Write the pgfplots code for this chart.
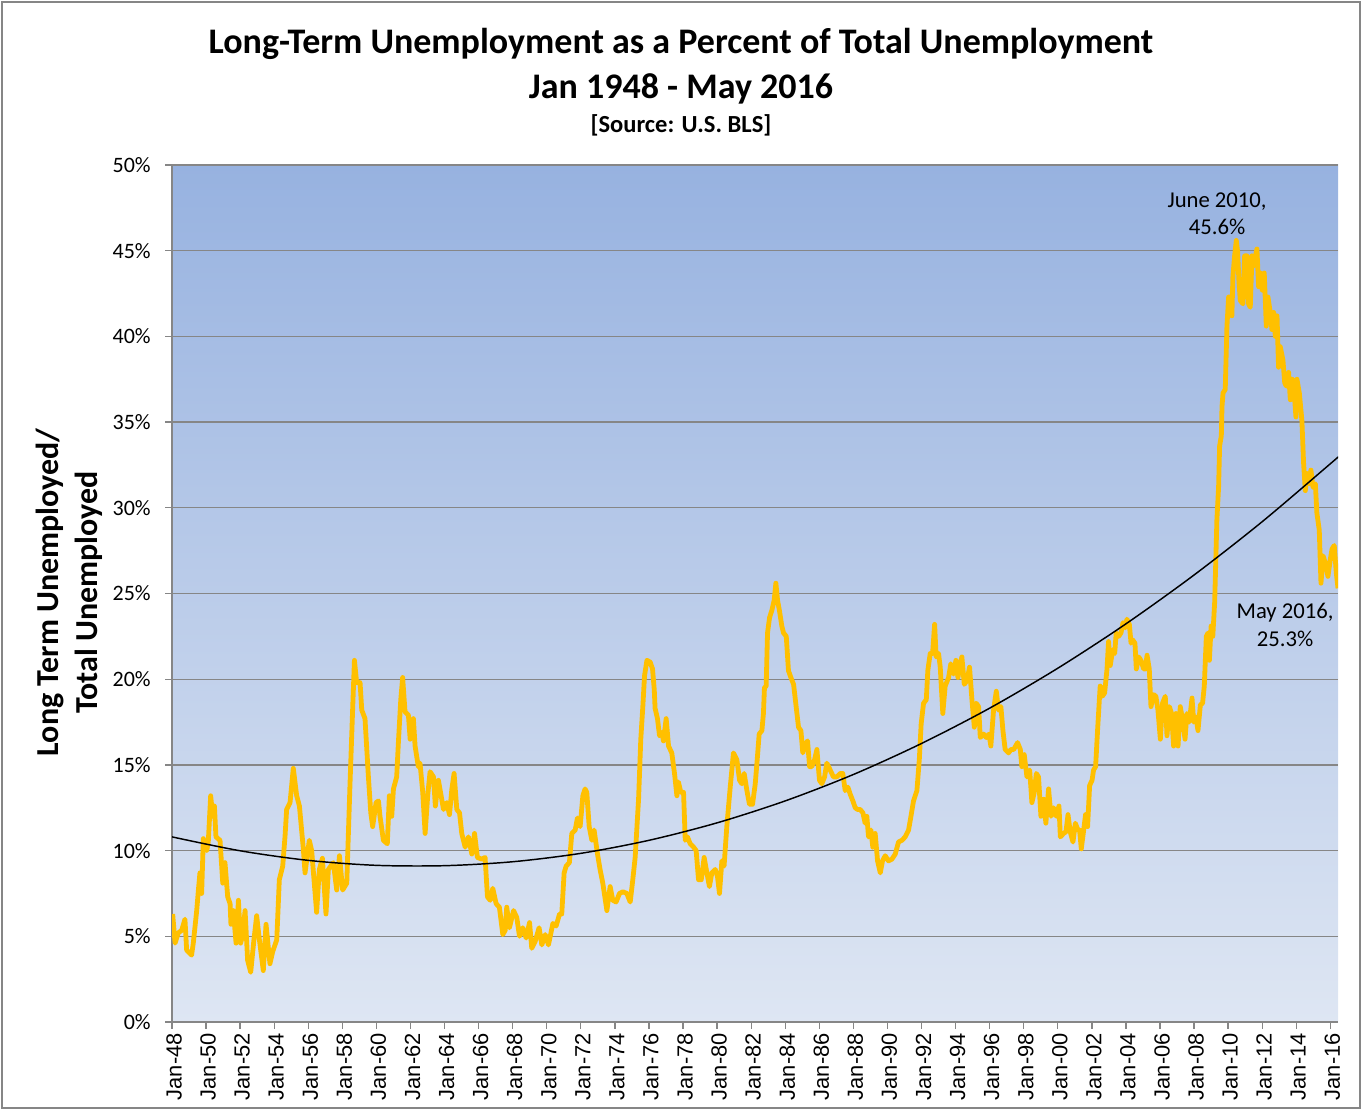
\documentclass[border=0pt]{standalone}
\usepackage{fontspec}
\setmainfont{Carlito}
\newfontfamily\arialfont{Liberation Sans}
\usepackage{pgfplots}
\pgfplotsset{compat=1.18}
\usepackage{pgfplotstable}

\definecolor{lineorange}{RGB}{255,192,0}
\definecolor{gridgray}{RGB}{134,134,134}
\definecolor{bgtop}{RGB}{151,178,224}
\definecolor{bgbottom}{RGB}{222,230,243}

% Share of the unemployed out of work 27 weeks or more (percent), by decimal year
\pgfplotstableread{
year share
1948.04 6.3
1948.18 4.6
1948.37 5.2
1948.57 5.35
1948.76 6.0
1948.86 4.2
1949.15 3.9
1949.25 4.6
1949.45 6.5
1949.55 7.7
1949.64 8.7
1949.74 7.5
1949.84 10.7
1950.04 10.0
1950.13 10.5
1950.27 13.2
1950.39 12.0
1950.49 12.6
1950.58 10.8
1950.82 10.6
1950.98 8.1
1951.11 9.3
1951.27 7.3
1951.41 6.9
1951.46 5.7
1951.60 6.5
1951.76 4.6
1951.90 7.1
1952.03 4.6
1952.13 5.0
1952.29 6.5
1952.44 3.6
1952.62 2.9
1952.81 4.8
1952.97 6.2
1953.13 4.8
1953.36 3.0
1953.52 5.7
1953.75 3.4
1953.91 4.1
1954.15 4.8
1954.30 8.3
1954.50 9.1
1954.64 10.9
1954.73 12.4
1954.93 12.8
1955.12 14.8
1955.32 13.2
1955.48 12.6
1955.71 10.1
1955.81 8.7
1956.06 10.6
1956.20 10.0
1956.49 6.4
1956.65 8.9
1956.83 9.55
1957.04 6.3
1957.18 8.9
1957.47 9.3
1957.67 7.7
1957.83 9.7
1958.02 7.7
1958.26 8.1
1958.45 13.9
1958.61 18.4
1958.71 21.1
1958.84 19.8
1959.04 19.8
1959.14 18.2
1959.33 17.7
1959.53 14.3
1959.67 12.2
1959.78 11.4
1959.98 12.8
1960.12 12.9
1960.21 12.0
1960.41 10.6
1960.64 10.4
1960.76 13.2
1960.90 12.0
1961.00 13.6
1961.19 14.3
1961.29 16.3
1961.43 18.8
1961.54 20.1
1961.68 18.1
1961.88 17.9
1961.98 16.5
1962.17 17.7
1962.27 16.1
1962.46 14.9
1962.56 15.1
1962.72 13.4
1962.86 11.0
1963.01 13.2
1963.15 14.6
1963.35 14.3
1963.46 12.6
1963.64 14.1
1963.94 12.4
1964.13 12.8
1964.29 12.1
1964.43 13.6
1964.56 14.5
1964.72 12.4
1964.88 12.2
1965.01 11.0
1965.21 10.2
1965.40 10.8
1965.60 9.8
1965.76 11.0
1965.93 9.6
1966.19 9.5
1966.38 9.6
1966.52 7.3
1966.68 7.1
1966.83 7.8
1967.03 6.9
1967.22 6.7
1967.42 5.1
1967.56 5.35
1967.65 6.7
1967.81 5.5
1968.05 6.5
1968.24 6.1
1968.40 5.0
1968.59 5.5
1968.79 4.9
1968.99 5.8
1969.12 4.3
1969.32 4.7
1969.55 5.5
1969.71 4.5
1969.91 5.1
1970.10 4.5
1970.36 5.75
1970.55 5.6
1970.75 6.3
1970.88 6.3
1971.02 8.7
1971.14 9.1
1971.33 9.3
1971.47 11.0
1971.67 11.2
1971.80 11.9
1971.96 11.4
1972.12 13.2
1972.25 13.6
1972.35 13.4
1972.49 11.4
1972.65 10.6
1972.78 11.2
1972.98 9.8
1973.13 8.9
1973.29 8.1
1973.53 6.5
1973.72 7.9
1973.88 7.1
1974.07 7.0
1974.27 7.5
1974.47 7.6
1974.70 7.5
1974.90 7.0
1975.05 8.3
1975.19 9.6
1975.39 13.0
1975.52 16.5
1975.64 18.4
1975.74 20.2
1975.88 21.1
1976.07 21.0
1976.21 20.6
1976.31 19.4
1976.36 18.3
1976.50 17.7
1976.62 16.7
1976.76 16.9
1976.85 16.4
1977.01 17.7
1977.15 16.1
1977.34 15.7
1977.50 14.5
1977.64 13.2
1977.73 14.0
1977.87 13.4
1978.03 13.4
1978.13 10.6
1978.26 10.8
1978.42 10.4
1978.62 10.2
1978.77 10.0
1978.91 8.3
1979.07 8.3
1979.24 9.6
1979.40 8.7
1979.55 7.9
1979.69 8.7
1979.89 8.9
1980.02 8.5
1980.14 7.5
1980.28 9.4
1980.41 9.1
1980.57 11.4
1980.77 13.7
1980.96 15.7
1981.16 15.3
1981.32 14.1
1981.45 13.9
1981.59 14.5
1981.75 13.5
1981.90 12.7
1982.08 12.7
1982.24 13.9
1982.37 15.5
1982.47 16.8
1982.63 17.0
1982.72 18.0
1982.78 19.5
1982.88 19.6
1982.96 22.7
1983.08 23.6
1983.21 24.0
1983.35 24.6
1983.45 25.6
1983.55 24.6
1983.66 24.0
1983.80 23.1
1983.90 22.7
1984.06 22.5
1984.19 20.5
1984.33 20.1
1984.49 19.7
1984.64 18.4
1984.78 17.2
1984.92 17.0
1985.03 15.7
1985.17 16.2
1985.31 16.4
1985.43 14.9
1985.56 14.9
1985.72 15.3
1985.86 15.9
1986.01 14.1
1986.15 13.9
1986.31 14.3
1986.44 15.1
1986.64 14.7
1986.83 14.3
1987.03 14.3
1987.23 14.5
1987.38 14.5
1987.52 13.5
1987.68 13.7
1987.81 13.3
1987.97 12.9
1988.11 12.5
1988.24 12.4
1988.40 12.4
1988.56 12.2
1988.69 11.6
1988.79 12.0
1988.89 10.8
1989.03 11.2
1989.14 10.2
1989.28 11.0
1989.42 9.4
1989.58 8.7
1989.71 9.4
1989.87 9.7
1990.06 9.4
1990.26 9.5
1990.46 9.8
1990.65 10.5
1990.85 10.6
1991.04 10.8
1991.24 11.2
1991.38 12.0
1991.53 12.9
1991.73 13.5
1991.87 15.3
1991.98 17.4
1992.12 18.6
1992.28 18.8
1992.37 20.5
1992.51 21.5
1992.65 21.5
1992.77 23.2
1992.86 21.3
1993.00 21.5
1993.10 20.7
1993.25 18.0
1993.39 19.6
1993.59 20.1
1993.72 20.9
1993.88 20.3
1994.02 21.1
1994.14 20.1
1994.27 20.9
1994.37 21.3
1994.51 19.7
1994.66 19.9
1994.82 20.7
1994.96 18.8
1995.10 17.2
1995.21 18.6
1995.35 18.4
1995.45 16.6
1995.64 16.8
1995.80 16.6
1995.96 16.8
1996.07 16.1
1996.23 18.2
1996.39 19.3
1996.52 18.2
1996.66 18.4
1996.78 17.0
1996.91 15.9
1997.11 15.7
1997.25 15.9
1997.41 15.9
1997.64 16.3
1997.80 15.9
1997.89 14.9
1998.03 15.6
1998.19 14.3
1998.35 14.7
1998.48 12.8
1998.62 13.4
1998.74 14.5
1998.87 14.3
1999.01 12.0
1999.17 13.0
1999.30 11.6
1999.46 13.6
1999.60 12.0
1999.75 12.5
1999.91 12.0
2000.07 12.6
2000.15 10.8
2000.34 11.0
2000.48 11.1
2000.60 12.1
2000.73 11.1
2000.89 10.5
2001.03 11.6
2001.18 11.2
2001.28 11.2
2001.38 10.1
2001.52 11.2
2001.63 12.1
2001.75 11.4
2001.87 13.8
2002.01 14.1
2002.10 14.7
2002.22 14.9
2002.34 17.1
2002.44 18.8
2002.49 19.6
2002.61 19.0
2002.75 19.2
2002.89 20.6
2002.98 22.2
2003.08 20.8
2003.22 21.7
2003.34 21.5
2003.43 22.7
2003.57 22.5
2003.71 22.7
2003.83 23.3
2003.96 23.0
2004.06 23.5
2004.20 23.2
2004.30 22.1
2004.39 22.3
2004.53 22.1
2004.61 20.6
2004.75 21.3
2004.88 21.1
2005.04 20.6
2005.14 20.6
2005.24 21.4
2005.37 20.6
2005.47 18.4
2005.63 19.1
2005.76 19.0
2005.88 18.2
2006.02 16.5
2006.15 18.6
2006.31 19.0
2006.41 16.7
2006.55 18.4
2006.68 18.0
2006.80 16.1
2006.94 18.0
2007.06 16.1
2007.19 18.4
2007.33 17.6
2007.47 16.5
2007.58 18.0
2007.72 17.5
2007.88 18.9
2007.98 17.5
2008.11 17.8
2008.23 17.0
2008.37 18.5
2008.50 18.6
2008.60 19.6
2008.72 22.5
2008.82 22.7
2008.90 21.1
2009.00 23.1
2009.10 22.5
2009.21 24.5
2009.34 29.3
2009.44 31.2
2009.50 33.6
2009.60 34.2
2009.64 35.9
2009.70 36.7
2009.83 36.9
2009.93 40.6
2010.03 42.3
2010.16 42.3
2010.22 41.2
2010.28 43.5
2010.38 44.7
2010.48 45.6
2010.56 44.9
2010.63 43.3
2010.71 42.1
2010.87 41.9
2010.97 44.7
2011.10 44.7
2011.20 41.9
2011.30 41.7
2011.40 44.7
2011.50 44.1
2011.59 44.6
2011.69 45.1
2011.79 42.9
2011.89 43.7
2012.00 42.7
2012.12 43.7
2012.24 40.6
2012.34 42.3
2012.47 41.4
2012.57 40.4
2012.67 41.4
2012.77 40.0
2012.87 41.2
2012.96 38.2
2013.06 39.4
2013.22 38.6
2013.32 37.3
2013.41 37.1
2013.55 37.9
2013.65 36.3
2013.77 37.5
2013.88 36.7
2013.98 35.3
2014.04 37.5
2014.18 36.7
2014.33 35.1
2014.43 32.6
2014.53 31.0
2014.63 32.0
2014.76 31.4
2014.86 32.2
2014.98 31.2
2015.12 31.4
2015.21 29.7
2015.35 28.7
2015.45 25.6
2015.57 27.2
2015.70 26.8
2015.86 26.0
2016.00 27.0
2016.10 27.6
2016.23 27.8
2016.35 26.2
2016.45 25.3
}\ltushare

% Second-order polynomial trend of the series
\pgfplotstableread{
year trend
1948 10.80
1952 9.99
1956 9.43
1960 9.14
1964 9.12
1968 9.35
1972 9.84
1976 10.60
1980 11.62
1984 12.90
1988 14.44
1992 16.25
1996 18.31
2000 20.64
2004 23.23
2008 26.08
2012 29.19
2016 32.57
2016.45 32.96
}\trendtab

\begin{document}
\begin{tikzpicture}
\path[use as bounding box] (0,0) rectangle (1023pt,833.25pt);
\draw[gridgray, line width=1.1pt] (1.5pt,2.25pt) rectangle (1020pt,831.75pt);

% titles
\node[font=\fontsize{27}{31}\selectfont\bfseries] at (510.75pt,800pt)
  {Long-Term Unemployment as a Percent of Total Unemployment};
\node[font=\fontsize{27}{31}\selectfont\bfseries] at (510.75pt,766.5pt)
  {Jan 1948 - May 2016};
\node[font=\fontsize{18.4}{22}\selectfont\bfseries] at (510.75pt,739.5pt)
  {[Source: U.S. BLS]};

% y-axis title
\node[rotate=90, align=center, font=\fontsize{24}{29}\selectfont\bfseries]
  at (51.75pt,389pt) {Long Term Unemployed/\\Total Unemployed};

\begin{axis}[
  at={(129pt,66.75pt)}, anchor=south west,
  width=874.5pt, height=642.75pt, scale only axis,
  xmin=1948, xmax=2016.45, ymin=0, ymax=50,
  axis x line*=bottom, axis y line*=left,
  axis line style={-, draw=gridgray, line width=1pt},
  axis background/.style={top color=bgtop, bottom color=bgbottom},
  ymajorgrids, major grid style={draw=gridgray, line width=1pt},
  tick align=outside, major tick length=5pt,
  tick style={draw=gridgray, line width=1pt},
  xtick={1948,1950,...,2016},
  xticklabels={Jan-48,Jan-50,Jan-52,Jan-54,Jan-56,Jan-58,Jan-60,Jan-62,Jan-64,
    Jan-66,Jan-68,Jan-70,Jan-72,Jan-74,Jan-76,Jan-78,Jan-80,Jan-82,Jan-84,
    Jan-86,Jan-88,Jan-90,Jan-92,Jan-94,Jan-96,Jan-98,Jan-00,Jan-02,Jan-04,
    Jan-06,Jan-08,Jan-10,Jan-12,Jan-14,Jan-16},
  xticklabel style={font=\arialfont\fontsize{16.4}{18}\selectfont, rotate=90, anchor=east, yshift=-1.5pt},
  ytick={0,5,...,50},
  yticklabels={0\%,5\%,10\%,15\%,20\%,25\%,30\%,35\%,40\%,45\%,50\%},
  yticklabel style={font=\fontsize{16.5}{19}\selectfont, xshift=-7.5pt},
]
\addplot[lineorange, line width=3.6pt, line join=round] table[x=year, y=share] {\ltushare};
\addplot[black, line width=1.1pt, smooth] table[x=year, y=trend] {\trendtab};
\node[align=center, font=\fontsize{17}{20.5}\selectfont] at (axis cs:2009.35,47.14)
  {June 2010,\\45.6\%};
\node[align=center, font=\fontsize{17}{20.5}\selectfont] at (axis cs:2013.34,23.16)
  {May 2016,\\25.3\%};
\end{axis}
\end{tikzpicture}
\end{document}
